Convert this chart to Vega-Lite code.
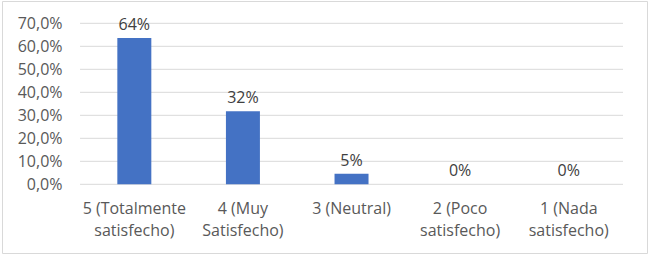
{
  "$schema": "https://vega.github.io/schema/vega-lite/v6.json",
  "width": 645,
  "height": 252,
  "autosize": "none",
  "padding": {"left": 2, "top": 1, "right": 3, "bottom": 5},
  "background": "white",
  "config": {
    "view": {"stroke": "#D9D9D9", "strokeWidth": 1},
    "locale": {"number": {"decimal": ",", "thousands": ".", "grouping": [3], "currency": ["", " €"]}},
    "font": "Open Sans"
  },
  "datasets": {
    "bars": [
      {"cat": "5 (Totalmente satisfecho)", "pct": 0.636},
      {"cat": "4 (Muy Satisfecho)", "pct": 0.318},
      {"cat": "3 (Neutral)", "pct": 0.046},
      {"cat": "2 (Poco satisfecho)", "pct": 0},
      {"cat": "1 (Nada satisfecho)", "pct": 0}
    ],
    "grid": [
      {"v": 0}, {"v": 0.1}, {"v": 0.2}, {"v": 0.3}, {"v": 0.4}, {"v": 0.5}, {"v": 0.6}, {"v": 0.7}
    ]
  },
  "layer": [
    {
      "data": {"name": "grid"},
      "mark": {"type": "rule", "color": "#D9D9D9", "strokeWidth": 1},
      "encoding": {
        "y": {
          "field": "v", "type": "quantitative",
          "scale": {"domain": [-0.2987, 0.797], "nice": false, "zero": false},
          "axis": {
            "title": null, "values": [0, 0.1, 0.2, 0.3, 0.4, 0.5, 0.6, 0.7], "tickCount": 20,
            "format": ".1%",
            "domain": false, "ticks": false, "grid": false,
            "offset": -60, "labelPadding": 0, "labelOverlap": false,
            "labelFont": "Open Sans", "labelFontSize": 16, "labelColor": "#595959"
          }
        },
        "x": {"datum": "5 (Totalmente satisfecho)", "type": "nominal", "bandPosition": 0},
        "x2": {"datum": "1 (Nada satisfecho)", "bandPosition": 1}
      }
    },
    {
      "data": {"name": "bars"},
      "mark": {"type": "bar", "color": "#4472C4", "width": {"band": 0.313}},
      "encoding": {
        "x": {
          "field": "cat", "type": "nominal", "sort": null,
          "scale": {
            "domain": ["5 (Totalmente satisfecho)", "4 (Muy Satisfecho)", "3 (Neutral)", "2 (Poco satisfecho)", "1 (Nada satisfecho)"],
            "paddingInner": 0, "paddingOuter": 0.4696, "align": 0.765
          },
          "axis": {
            "title": null, "labelAngle": 0, "labelAlign": "center", "domain": false, "ticks": false,
            "grid": false, "offset": -68.7, "labelPadding": 16,
            "labelFont": "Open Sans", "labelFontSize": 16, "labelColor": "#595959",
            "labelLineHeight": 22, "labelBaseline": "top", "labelOverlap": false,
            "labelExpr": "lastindexof(datum.label, ' ') > 2 ? [slice(datum.label, 0, lastindexof(datum.label, ' ')), slice(datum.label, lastindexof(datum.label, ' ') + 1)] : datum.label"
          }
        },
        "y": {"field": "pct", "type": "quantitative"},
        "y2": {"datum": 0}
      }
    },
    {
      "data": {"name": "bars"},
      "mark": {"type": "text", "dy": -8, "baseline": "alphabetic", "align": "center", "font": "Open Sans", "fontSize": 16, "color": "#404040"},
      "encoding": {
        "x": {"field": "cat", "type": "nominal", "sort": null},
        "y": {"field": "pct", "type": "quantitative"},
        "text": {"field": "pct", "type": "quantitative", "format": ".0%"}
      }
    }
  ]
}
